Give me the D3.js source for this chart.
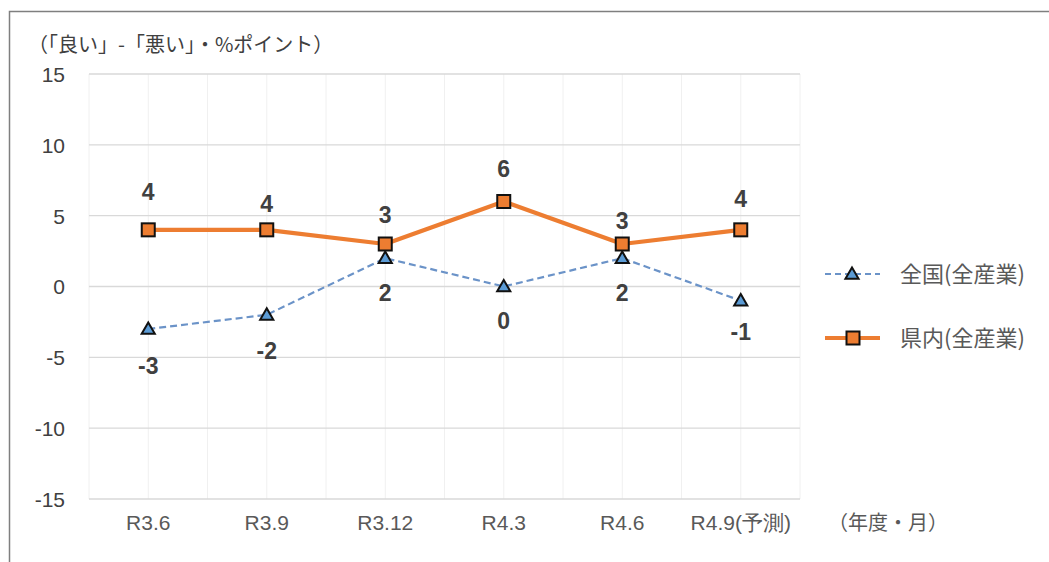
<!DOCTYPE html>
<html>
<head>
<meta charset="utf-8">
<script src="https://cdn.jsdelivr.net/npm/d3@7"></script>
<style>
  html, body { margin: 0; padding: 0; background: #fff; }
  svg { display: block; }
</style>
</head>
<body>
<svg id="chart" width="1049" height="562"></svg>
<script>
// Survey periods (fiscal year . month)
const categories = ["R3.6", "R3.9", "R3.12", "R4.3", "R4.6", "R4.9(予測)"];
// DI: share answering "good" minus share answering "bad", % points
const national = [-3, -2, 2, 0, 2, -1];   // 全国(全産業)
const prefecture = [4, 4, 3, 6, 3, 4];    // 県内(全産業)
const yTicks = [15, 10, 5, 0, -5, -10, -15];
const seriesNames = ["全国(全産業)", "県内(全産業)"];

// hand-placed label nudges (px from the marker)
const nationalLabelOffset = [37, 36, 35, 34, 35, 31];
const prefectureLabelOffset = [-38, -26, -29, -33, -23, -31];

const svg = d3.select("#chart");
const latin = "'Liberation Sans', Arial, sans-serif";
const jp = "'Noto Sans CJK JP', 'Noto Sans', sans-serif";
const textGray = "#595959";
const orange = "#ED7D31";
const blue = "#5B9BD5";

// outer frame
svg.append("rect")
  .attr("x", 9.5).attr("y", 11.5)
  .attr("width", 1100).attr("height", 600)
  .attr("fill", "none").attr("stroke", "#7f7f7f").attr("stroke-width", 1.5);

const plotLeft = 89, plotRight = 800, plotTop = 74, plotBottom = 499;

const x = d3.scaleBand().domain(categories).range([plotLeft, plotRight]);
const y = d3.scaleLinear().domain([-15, 15]).range([plotBottom, plotTop]);

const g = svg.append("g");

// vertical gridlines at category centres and boundaries
const vLines = [];
categories.forEach((c) => {
  vLines.push(x(c));
  vLines.push(x(c) + x.bandwidth() / 2);
});
vLines.push(plotRight);
g.selectAll("line.vgrid").data(vLines).enter().append("line")
  .attr("class", "vgrid")
  .attr("x1", d => d).attr("x2", d => d)
  .attr("y1", plotTop).attr("y2", plotBottom)
  .attr("stroke", "#f0f0f0").attr("stroke-width", 1);

// horizontal gridlines
g.selectAll("line.hgrid").data(yTicks).enter().append("line")
  .attr("class", "hgrid")
  .attr("x1", plotLeft).attr("x2", plotRight)
  .attr("y1", d => y(d)).attr("y2", d => y(d))
  .attr("stroke", "#d9d9d9").attr("stroke-width", 1.3);

// y axis labels
const yAxis = d3.axisLeft(y).tickValues(yTicks).tickFormat(d => String(d))
  .tickSize(0).tickPadding(0);
const ya = svg.append("g").attr("transform", `translate(65,0)`).call(yAxis);
ya.select(".domain").remove();
ya.selectAll("text")
  .attr("font-family", latin).attr("font-size", 21).attr("fill", "#404040")
  .attr("dy", "0.35em");

// x axis labels
const xAxis = d3.axisBottom(x).tickSize(0).tickPadding(0);
const xa = svg.append("g").attr("transform", `translate(0,${plotBottom + 24})`).call(xAxis);
xa.select(".domain").remove();
xa.selectAll("text")
  .attr("font-family", latin).attr("font-size", 21).attr("fill", textGray)
  .attr("dy", "0.35em");

// unit labels
svg.append("text")
  .attr("x", 28).attr("y", 45).attr("dy", "0.35em")
  .attr("font-family", jp).attr("font-size", 20).attr("fill", "#404040")
  .text("（「良い」-「悪い」・%ポイント）");
svg.append("text")
  .attr("x", 828).attr("y", 523).attr("dy", "0.35em")
  .attr("font-family", jp).attr("font-size", 20).attr("fill", textGray)
  .text("（年度・月）");

const cx = d => x(d) + x.bandwidth() / 2;

// national series: dashed line with triangles
const line = d3.line().x((d, i) => cx(categories[i])).y(d => y(d));
svg.append("path").datum(national)
  .attr("d", line)
  .attr("fill", "none").attr("stroke", "#6b93c8").attr("stroke-width", 2.2)
  .attr("stroke-dasharray", "7,4");

// prefecture series: solid line with squares
svg.append("path").datum(prefecture)
  .attr("d", line)
  .attr("fill", "none").attr("stroke", orange).attr("stroke-width", 4.2)
  .attr("stroke-linejoin", "round");

const tri = d3.symbol().type(d3.symbolTriangle).size(75);
function triangle(sel, px, py) {
  sel.append("path").attr("d", tri())
    .attr("transform", `translate(${px},${py + 1})`)
    .attr("fill", blue).attr("stroke", "#111").attr("stroke-width", 2);
}
function square(sel, px, py) {
  sel.append("rect")
    .attr("x", px - 6.5).attr("y", py - 6.5).attr("width", 13).attr("height", 13)
    .attr("fill", orange).attr("stroke", "#111").attr("stroke-width", 2);
}

national.forEach((v, i) => triangle(svg, cx(categories[i]), y(v)));
prefecture.forEach((v, i) => square(svg, cx(categories[i]), y(v)));

// data labels
svg.selectAll("text.nl").data(national).enter().append("text")
  .attr("class", "nl")
  .attr("x", (d, i) => cx(categories[i])).attr("y", (d, i) => y(d) + nationalLabelOffset[i])
  .attr("dy", "0.35em").attr("text-anchor", "middle")
  .attr("font-family", latin).attr("font-weight", "bold").attr("font-size", 23)
  .attr("fill", "#404040").text(d => d);
svg.selectAll("text.pl").data(prefecture).enter().append("text")
  .attr("class", "pl")
  .attr("x", (d, i) => cx(categories[i])).attr("y", (d, i) => y(d) + prefectureLabelOffset[i])
  .attr("dy", "0.35em").attr("text-anchor", "middle")
  .attr("font-family", latin).attr("font-weight", "bold").attr("font-size", 23)
  .attr("fill", "#404040").text(d => d);

// legend
const legY = [274, 338];
const lg = svg.append("g");
lg.append("line").attr("x1", 825).attr("x2", 880).attr("y1", legY[0]).attr("y2", legY[0])
  .attr("stroke", "#6b93c8").attr("stroke-width", 2.2).attr("stroke-dasharray", "6,4");
triangle(lg, 852, legY[0]);
lg.append("line").attr("x1", 825).attr("x2", 880).attr("y1", legY[1]).attr("y2", legY[1])
  .attr("stroke", orange).attr("stroke-width", 4.2);
square(lg, 853, legY[1]);
lg.selectAll("text.leg").data(seriesNames).enter().append("text")
  .attr("class", "leg")
  .attr("x", 900).attr("y", (d, i) => legY[i]).attr("dy", "0.35em")
  .attr("font-family", jp).attr("font-size", 22).attr("fill", textGray)
  .text(d => d);
</script>
</body>
</html>
